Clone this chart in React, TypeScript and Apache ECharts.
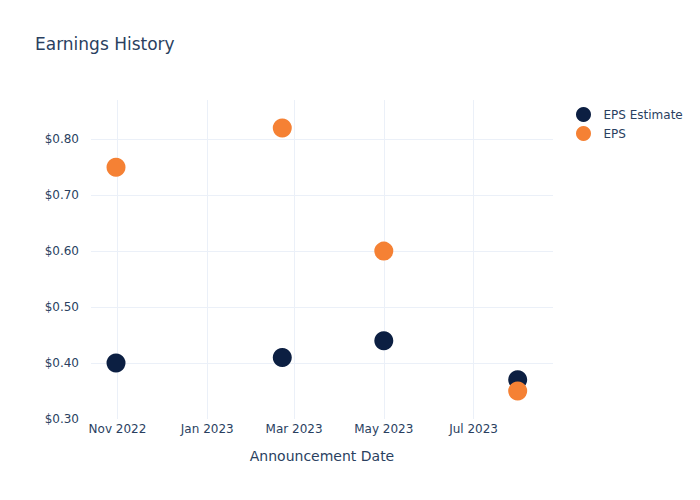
import React, { useEffect, useRef } from "react";
import * as echarts from "echarts";

const dates = ["2022-10-31", "2023-02-21", "2023-05-01", "2023-07-31"];
const epsEstimate = [0.4, 0.41, 0.44, 0.37];
const eps = [0.75, 0.82, 0.6, 0.35];
const xTickDates = ["2022-11-01", "2023-01-01", "2023-03-01", "2023-05-01", "2023-07-01"];
const xTickLabels = ["Nov 2022", "Jan 2023", "Mar 2023", "May 2023", "Jul 2023"];
const yGridValues = [0.4, 0.5, 0.6, 0.7, 0.8];

const FONT = "DejaVu Sans";
const TXT = "#2a3f5f";
const GRID = "#ebf0f8";

export default function App() {
  const ref = useRef<HTMLDivElement>(null);
  useEffect(() => {
    document.body.style.margin = "0";
    if (!ref.current) return;
    const chart = echarts.init(ref.current, undefined, { renderer: "svg" });
    const toPts = (vals: number[]) => dates.map((d, i) => [d, vals[i]]);
    chart.setOption({
      animation: false,
      backgroundColor: "#ffffff",
      textStyle: { fontFamily: FONT },
      title: {
        text: "Earnings History",
        left: 30,
        top: 30,
        textStyle: { fontFamily: FONT, fontSize: 17, fontWeight: "normal", color: TXT },
      },
      legend: {
        orient: "vertical",
        left: 571,
        top: 102,
        itemGap: 4,
        itemWidth: 30,
        itemHeight: 15,
        icon: "circle",
        textStyle: { fontFamily: FONT, fontSize: 12, color: TXT },
        data: ["EPS Estimate", "EPS"],
      },
      grid: { left: 91, right: 147, top: 100, bottom: 81, containLabel: false },
      xAxis: {
        type: "time",
        min: "2022-10-14",
        max: "2023-08-24",
        name: "Announcement Date",
        nameLocation: "middle",
        nameGap: 30,
        nameTextStyle: { fontFamily: FONT, fontSize: 14, color: TXT },
        axisLine: { show: false },
        axisTick: { show: false },
        axisLabel: { show: false },
        splitLine: { show: false },
      },
      yAxis: {
        type: "value",
        min: 0.3,
        max: 0.87,
        interval: 0.1,
        axisLine: { show: false },
        axisTick: { show: false },
        axisLabel: {
          fontFamily: FONT,
          fontSize: 12,
          color: TXT,
          margin: 12,
          showMaxLabel: false,
          formatter: (v: number) => "$" + v.toFixed(2),
        },
        splitLine: { show: false },
      },
      series: [
        {
          name: "grid",
          type: "scatter",
          data: [],
          z: 0,
          silent: true,
          markLine: {
            silent: true,
            z: 0,
            symbol: ["none", "none"],
            animation: false,
            lineStyle: { color: GRID, width: 1, type: "solid" },
            label: {
              show: true,
              position: "start",
              distance: 4,
              formatter: "{b}",
              fontFamily: FONT,
              fontSize: 12,
              color: TXT,
            },
            emphasis: { disabled: true },
            data: [
              ...xTickDates.map((d, i) => ({ name: xTickLabels[i], xAxis: d })),
              ...yGridValues.map((v) => ({ name: "", yAxis: v, label: { show: false } })),
            ],
          },
        },
        {
          name: "EPS Estimate",
          type: "scatter",
          symbol: "circle",
          symbolSize: 19,
          z: 6,
          itemStyle: { color: "#0c1f42", opacity: 1 },
          data: toPts(epsEstimate),
        },
        {
          name: "EPS",
          type: "scatter",
          symbol: "circle",
          symbolSize: 19,
          z: 7,
          itemStyle: { color: "#f58134", opacity: 1 },
          data: toPts(eps),
        },
      ],
    });
    return () => chart.dispose();
  }, []);
  return <div ref={ref} style={{ width: 700, height: 500 }} />;
}
